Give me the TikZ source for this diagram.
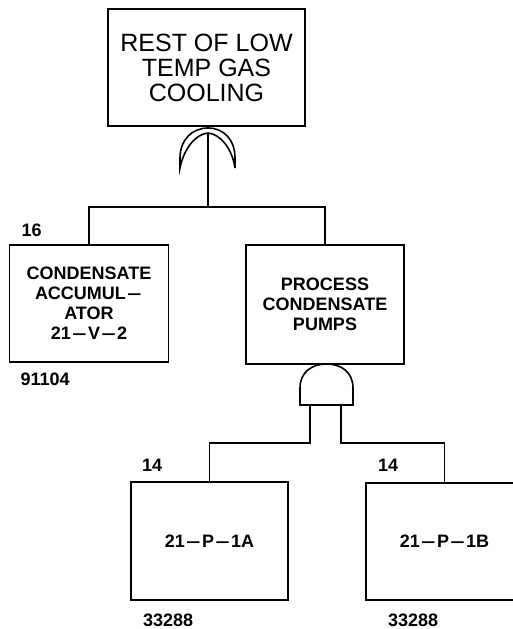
\documentclass[tikz,border=0pt]{standalone}
\usepackage{fontspec}
\setmainfont{Liberation Sans}
\usetikzlibrary{positioning}
\newcommand{\dsh}{\kern1.5pt\scalebox{1.4}[1]{--}\kern1.5pt}

\begin{document}
\begin{tikzpicture}[
  x=1pt, y=-1pt,
  line width=1.6pt,
  every node/.style={font=\bfseries\fontsize{18}{20}\selectfont},
  event/.style={draw, rectangle, align=center, inner sep=0pt},
  num/.style={inner sep=0pt}
]
  \useasboundingbox (0,0) rectangle (512,629);

  % top event
  \node[event, minimum width=197pt, minimum height=117pt,
    font=\fontsize{25}{25}\selectfont] (top) at (206.5,67.5)
    {REST OF LOW\\TEMP GAS\\COOLING};

  % OR gate under the top event
  \draw (180,168) -- (180,158) .. controls (180,140) and (192,128) .. (208,128)
    .. controls (224,128) and (235,140) .. (235,158) -- (235,168)
    .. controls (232,148) and (220,134) .. (208,133)
    .. controls (196,134) and (184,148) .. cycle;
  \coordinate (orout) at (208,133);
  \coordinate (orbus) at (208,207);

  % second level
  \node[event, minimum width=159pt, minimum height=117pt] (accum) at (89,303.5)
    {CONDENSATE\\ACCUMUL\dsh\\ATOR\\21\dsh V\dsh 2};
  \node[event, minimum width=158pt, minimum height=119pt] (pumps) at (325,304.5)
    {PROCESS\\CONDENSATE\\PUMPS};
  \node[num, above right=7pt and 12pt of accum.north west] (n16) {16};
  \node[num, below right=9pt and 11pt of accum.south west] (n91104) {91104};

  \draw (orout) -- (orbus);
  \draw (accum.north) |- (orbus) -| (pumps.north);

  % AND gate under the pumps
  \draw (300,405) -- (300,388) .. controls (300,372) and (312,364) .. (326.5,364)
    .. controls (341,364) and (353,372) .. (353,388) -- (353,405) -- cycle;
  \coordinate (andl) at (310,405);
  \coordinate (andr) at (341,405);
  \coordinate (lbus) at (310,443);
  \coordinate (rbus) at (341,443);

  % basic events
  \node[event, minimum width=157pt, minimum height=118pt] (pA) at (209.5,541)
    {21\dsh P\dsh 1A};
  \node[event, minimum width=157pt, minimum height=117pt] (pB) at (444.5,541.5)
    {21\dsh P\dsh 1B};
  \node[num, above right=9pt and 11pt of pA.north west] (n14a) {14};
  \node[num, below right=12pt and 12pt of pA.south west] (n33288a) {33288};
  \node[num, above right=10pt and 12pt of pB.north west] (n14b) {14};
  \node[num, below right=12pt and 22pt of pB.south west] (n33288b) {33288};

  \draw (andl) -- (lbus) -| (pA.north);
  \draw (andr) -- (rbus) -| (pB.north);
\end{tikzpicture}
\end{document}
